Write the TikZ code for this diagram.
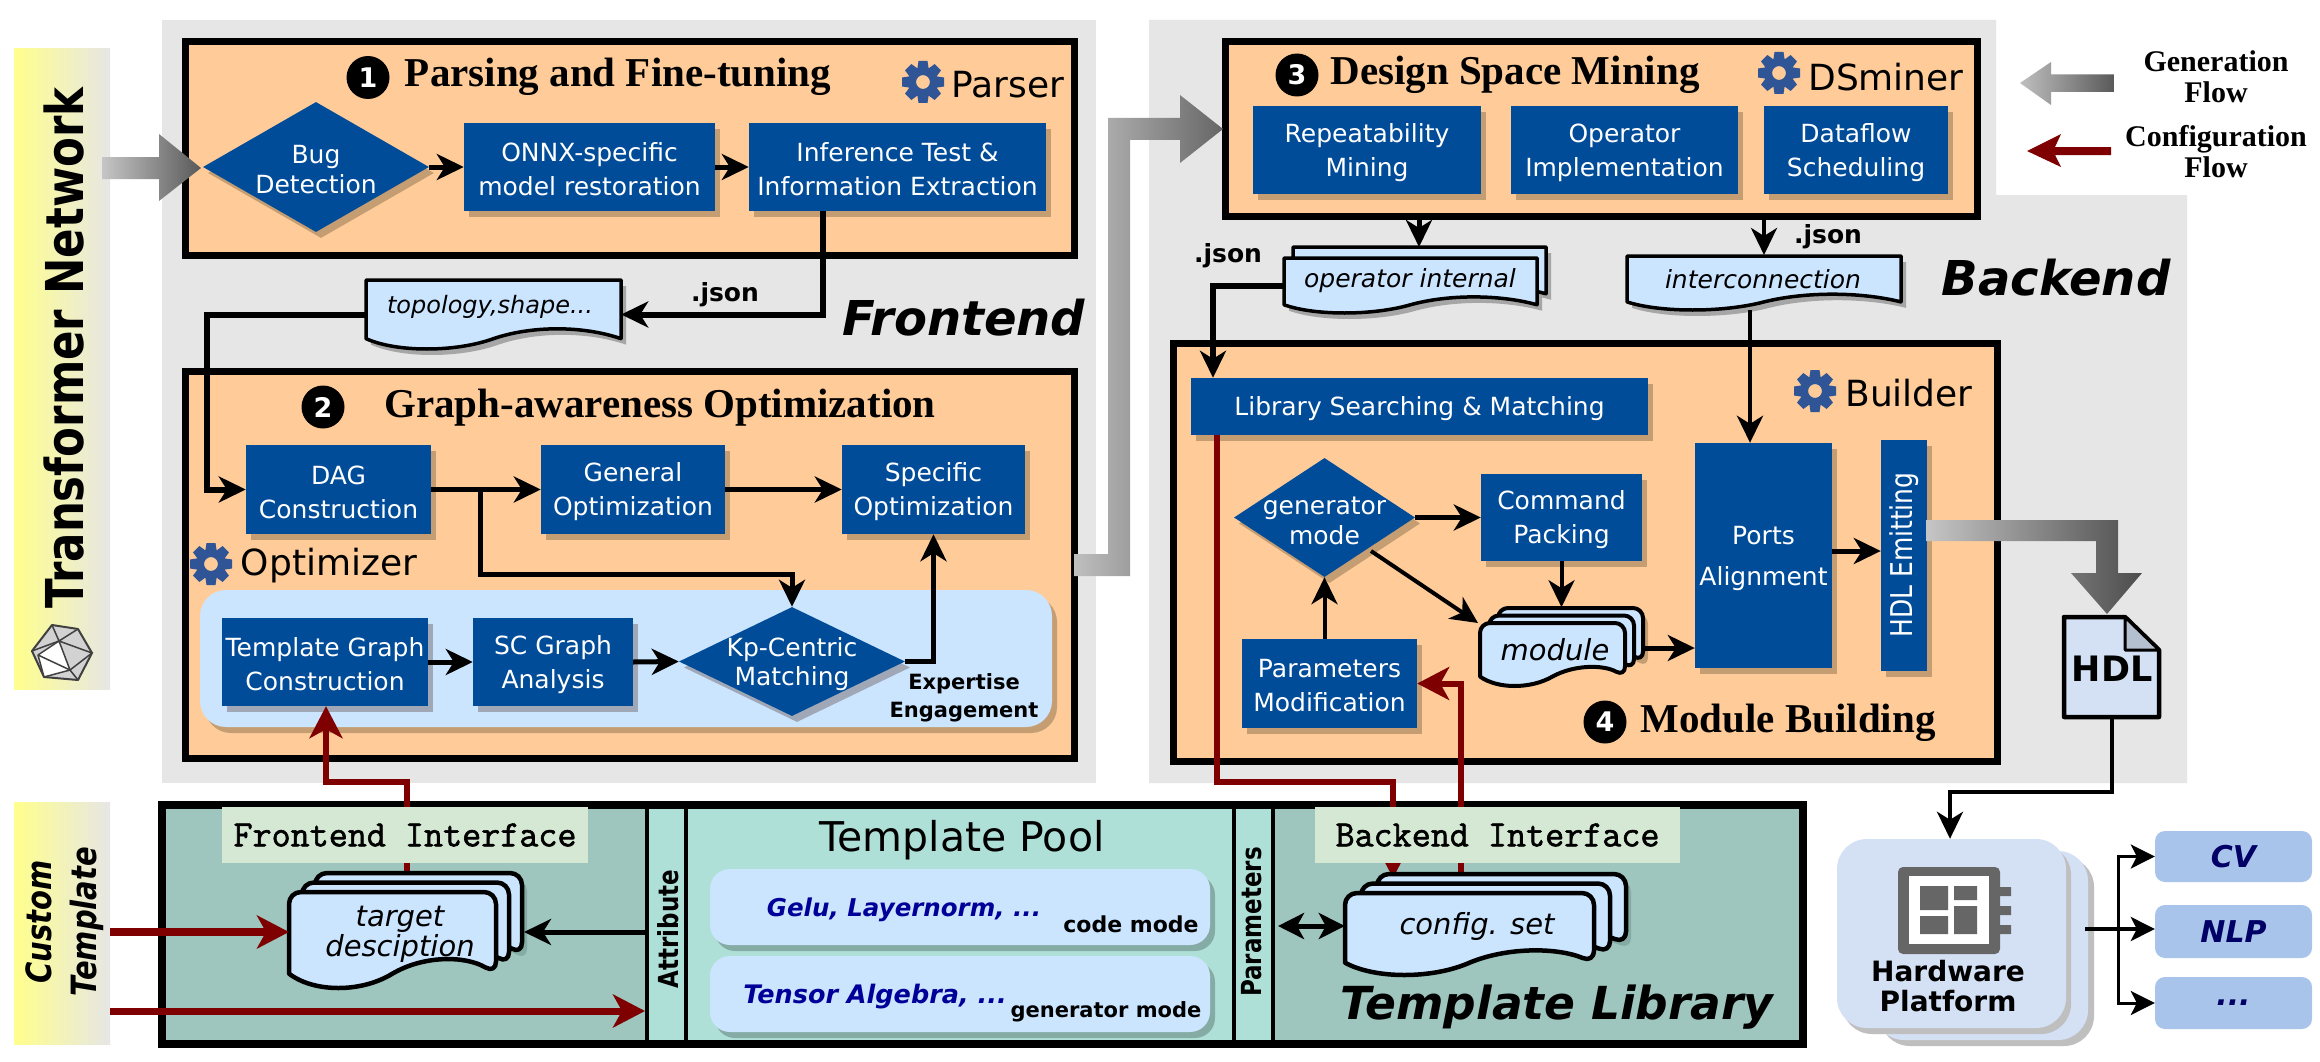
\documentclass[tikz,border=0pt]{standalone}
\usepackage{fontspec}
\setmainfont{DejaVu Sans}
\newfontfamily\tms{Liberation Serif}
\newfontfamily\monob{Latin Modern Mono}[FakeBold=1.6]
\usetikzlibrary{arrows.meta,shapes.geometric,shadows,calc}
\definecolor{bxblue}{HTML}{004C99}
\definecolor{orng}{HTML}{FFCC99}
\definecolor{bggray}{HTML}{E6E6E6}
\definecolor{docblue}{HTML}{CCE5FF}
\definecolor{teal1}{HTML}{9EC5BE}
\definecolor{pool1}{HTML}{AFE0D8}
\definecolor{iface}{HTML}{D5E8D4}
\definecolor{dred}{HTML}{7F0000}
\definecolor{hwc}{HTML}{D4E1F5}
\definecolor{outc}{HTML}{A9C4EB}
\definecolor{gearc}{HTML}{2F5597}
\definecolor{shbr}{HTML}{C49D72}
\definecolor{shbl}{HTML}{A0A8B8}
\definecolor{shte}{HTML}{85ABA5}
\definecolor{navy1}{HTML}{000099}
\definecolor{navy2}{HTML}{000066}
\newcommand\fs[2]{\fontsize{#1}{#2}\selectfont}
\tikzset{
  bluebox/.style={rectangle,fill=bxblue,text=white,inner sep=0pt,align=center,font=\fs{25}{34},
    drop shadow={shadow xshift=5pt,shadow yshift=-6pt,fill=#1,opacity=1}},
  bluebox/.default=shbr,
  bluedia/.style={diamond,fill=bxblue,text=white,inner sep=0pt,
    drop shadow={shadow xshift=5pt,shadow yshift=-6pt,fill=#1,opacity=1}},
  bluedia/.default=shbr,
  frame/.style={rectangle,draw=black,line width=7pt,fill=orng,inner sep=0pt},
  ttl/.style={font=\tms\bfseries\fs{41}{44},inner sep=0pt},
  num/.style={circle,fill=black,text=white,minimum size=43pt,inner sep=0pt,font=\bfseries\fs{27}{30}},
  toolname/.style={font=\fs{36}{38},inner sep=0pt},
  doctxt/.style={font=\itshape\fs{25}{31},align=center,inner sep=0pt},
  bolds/.style={font=\bfseries\fs{21}{26},inner sep=0pt,align=center},
  jsn/.style={font=\bfseries\fs{25}{28},inner sep=0pt},
  bigit/.style={font=\bfseries\itshape\fs{48}{52},inner sep=0pt},
  ghost/.style={rectangle,inner sep=0pt},
  poolbox/.style={rectangle,fill=docblue,rounded corners=20pt,inner sep=0pt,
    drop shadow={shadow xshift=5pt,shadow yshift=-6pt,fill=shte,opacity=1}},
  bk/.style={draw=black,line width=#1,line join=miter,-{Stealth[length=27pt,width=26pt,inset=8pt]}},
  bk/.default=5pt,
  rd/.style={draw=dred,line width=#1,-{Stealth[length=32pt,width=33pt,inset=9pt]}},
  rd/.default=6pt,
  legendtxt/.style={font=\tms\bfseries\fs{30}{31},inner sep=0pt,align=center}
}
% named rectangular node from its corners: style, name, x1,y1,x2,y2, text
\newcommand\rbox[7][]{%
  \pgfmathsetmacro\bxw{#5-#3}\pgfmathsetmacro\bxh{#6-#4}%
  \pgfmathsetmacro\bxcx{(#3+#5)/2}\pgfmathsetmacro\bxcy{(#4+#6)/2}%
  \node[#1,minimum width=\bxw pt,minimum height=\bxh pt] (#2) at (\bxcx,\bxcy) {#7};}
% blue box with its text as a centred label
\newcommand\bbox[7][shbr]{%
  \pgfmathsetmacro\bxw{#5-#3}\pgfmathsetmacro\bxh{#6-#4}%
  \pgfmathsetmacro\bxcx{(#3+#5)/2}\pgfmathsetmacro\bxcy{(#4+#6)/2}%
  \node[bluebox=#1,minimum width=\bxw pt,minimum height=\bxh pt,
    label={[text=white,align=center,font=\fs{25}{34},inner sep=0pt,yshift=-2.5pt]center:#7}] (#2) at (\bxcx,\bxcy) {};}
% diamond with centred label
\newcommand\dbox[6]{%
  \pgfmathsetmacro\bxw{#4-#2}\pgfmathsetmacro\bxh{#5-#3}%
  \pgfmathsetmacro\bxcx{(#2+#4)/2}\pgfmathsetmacro\bxcy{(#3+#5)/2}%
  \pgfmathsetmacro\bxa{\bxw/\bxh}%
  \node[bluedia,aspect=\bxa,minimum width=\bxw pt,minimum height=\bxh pt,
    label={[text=white,align=center,font=\fs{25}{30},inner sep=0pt,yshift=-3pt]center:#6}] (#1) at (\bxcx,\bxcy) {};}
% wave document outline: options, x1,y1,x2,y2, corner radius
\newcommand\docdraw[6]{%
  \pgfmathsetmacro\dw{#4-#2}\pgfmathsetmacro\dh{#5-#3}%
  \pgfmathsetmacro\yw{#3+.85*\dh}\pgfmathsetmacro\ycr{#3+.66*\dh}\pgfmathsetmacro\ytr{#3+1.05*\dh}%
  \pgfmathsetmacro\xa{#2+.85*\dw}\pgfmathsetmacro\xb{#2+.65*\dw}\pgfmathsetmacro\xc{#2+.5*\dw}%
  \pgfmathsetmacro\xd{#2+.35*\dw}\pgfmathsetmacro\xe{#2+.12*\dw}%
  \path[#1,line join=round,rounded corners=#6pt] (#2,\yw) -- (#2,#3) -- (#4,#3) -- (#4,\yw)
    [sharp corners] .. controls (\xa,\ycr) and (\xb,\ycr) .. (\xc,\yw)
    .. controls (\xd,\ytr) and (\xe,\ytr) .. (#2,\yw) -- cycle;}
% stack: name, x1,y1,x2,y2 (front), dx, dy, copies-1, radius, lw, shadow colour
\newcommand\docstack[9]{\docstackb{#1}{#2}{#3}{#4}{#5}{#6}{#7}{#8}{#9}}
\newcommand\docstackb[9]{\def\sa{#2}\def\sb{#3}\def\sc{#4}\def\sd{#5}\def\se{#6}\def\sf{#7}\def\sg{#8}\def\sh{#9}\def\sn{#1}\docstackc}
\newcommand\docstackc[2]{%
  \pgfmathsetmacro\xsh{\sa+\sg*\se+5}\pgfmathsetmacro\ysh{\sb-\sg*\sf+6}%
  \pgfmathsetmacro\xsi{\sc+\sg*\se+5}\pgfmathsetmacro\ysi{\sd-\sg*\sf+6}%
  \docdraw{fill=#2}{\xsh}{\ysh}{\xsi}{\ysi}{\sh}%
  \foreach \i in {\sg,...,0}{%
    \pgfmathsetmacro\xaa{\sa+\i*\se}\pgfmathsetmacro\yaa{\sb-\i*\sf}%
    \pgfmathsetmacro\xbb{\sc+\i*\se}\pgfmathsetmacro\ybb{\sd-\i*\sf}%
    \docdraw{fill=docblue,draw=black,line width=#1}{\xaa}{\yaa}{\xbb}{\ybb}{\sh}}%
  \pgfmathsetmacro\xbb{\sc+\sg*\se}\pgfmathsetmacro\yaa{\sb-\sg*\sf}%
  \rbox[ghost]{\sn}{\sa}{\yaa}{\xbb}{\sd}{}}
\newcommand\gearicon[2]{\begin{scope}[shift={(#1,#2)}]
  \foreach \a in {0,45,...,315}{\fill[gearc,rotate=\a] (-4.5,-21) -- (4.5,-21) -- (6,-11) -- (-6,-11) -- cycle;}
  \draw[gearc,line width=8pt] (0,0) circle[radius=11pt];
\end{scope}}
\begin{document}
\begin{tikzpicture}[x=1pt,y=-1pt]
\useasboundingbox (0,0) rectangle (2320,1062);
\fill[white] (0,0) rectangle (2320,1062);
% grey regions
\fill[bggray] (162,20) rectangle (1096,783);
\fill[bggray] (1149,20) -- (1996,20) -- (1996,195) -- (2187,195) -- (2187,783) -- (1149,783) -- cycle;
% side panels
\rbox[rectangle,left color=yellow!45!white,right color=bggray,inner sep=0pt]{tnpanel}{14}{49}{110}{689}{}
\rbox[rectangle,left color=yellow!45!white,right color=bggray,inner sep=0pt]{ctpanel}{14}{802}{110}{1044}{}
\node[rotate=90,font=\bfseries\fs{43.5}{46},inner sep=0pt] (tntext) at (64,348) {\scalebox{1}[1.2]{Transformer Network}};
\node[rotate=90,font=\bfseries\itshape\fs{29}{45},align=center,inner sep=0pt] (cttext) at (65,922) {\scalebox{1}[1.2]{Custom}\\\scalebox{1}[1.2]{Template}};
% icosahedron icon
\filldraw[fill=gray!35,draw=black!75,line width=2pt,line join=round]
  (52,625) -- (78,629) -- (92,653) -- (78,680) -- (44,677) -- (32,651) -- cycle;
\filldraw[fill=white,draw=black!75,line width=1.5pt,line join=round] (59,641) -- (70,670) -- (44,677) -- (38,655) -- cycle;
\draw[black!75,line width=1.5pt] (52,625) -- (59,641) -- (78,629) (59,641) -- (92,653) -- (70,670) -- (78,680) (32,651) -- (59,641) (38,655) -- (70,670);
% Box 1
\rbox[frame]{b1}{185}{42}{1074}{255}{}
\node[num] (n1) at (368,77.5) {1};
\node[ttl] (t1) at (618,77) {Parsing and Fine-tuning};
\gearicon{923}{82}
\node[toolname] (tool1) at (1008,85) {Parser};
\dbox{bug}{203}{102}{429}{232}{Bug\\Detection}
\bbox{onnx}{464}{123}{715}{211}{ONNX-specific\\model restoration}
\bbox{inf}{749}{123}{1046}{211}{Inference Test \&\\Information Extraction}
% Box 2
\rbox[frame]{b2}{185}{371}{1074}{758}{}
\node[num] (n2) at (323,407) {2};
\node[ttl] (t2) at (660,408) {Graph-awareness Optimization};
\bbox{dag}{246}{445}{431}{534}{DAG\\Construction}
\bbox{gen}{541}{445}{725}{534}{General\\Optimization}
\bbox{spec}{842}{445}{1025}{534}{Specific\\Optimization}
\gearicon{211}{564}
\node[toolname] (tool2) at (329,566) {Optimizer};
\rbox[rectangle,fill=docblue,rounded corners=26pt,inner sep=0pt,drop shadow={shadow xshift=5pt,shadow yshift=-6pt,fill=shbr,opacity=1}]{engage}{200}{590}{1052}{727}{}
\bbox[shbl]{tg}{222}{618}{428}{706}{Template Graph\\Construction}
\bbox[shbl]{sc}{473}{618}{633}{706}{SC Graph\\Analysis}
\node[bluedia=shbl,aspect=2.07,minimum width=226pt,minimum height=109pt,
  label={[text=white,align=center,font=\fs{25}{29},inner sep=0pt,yshift=-3pt]center:Kp-Centric\\Matching}] (kp) at (792,661.5) {};
\node[bolds,font=\bfseries\fs{21}{28}] (expert) at (964,698) {Expertise\\Engagement};
% Box 3
\rbox[frame]{ds}{1225}{42}{1977}{216}{}
\node[num] (n3) at (1297,75) {3};
\node[ttl] (t3) at (1515,75) {Design Space Mining};
\gearicon{1779}{73}
\node[toolname] (tool3) at (1886,77) {DSminer};
\bbox{rep}{1253}{106}{1481}{194}{Repeatability\\Mining}
\bbox{opi}{1511}{106}{1738}{194}{Operator\\Implementation}
\bbox{dfs}{1764}{106}{1948}{194}{Dataflow\\Scheduling}
% Box 4
\rbox[frame]{b4}{1173}{343}{1997}{761}{}
\bbox{srch}{1191}{378}{1648}{435}{Library Searching \& Matching}
\gearicon{1815}{391}
\node[toolname] (tool4) at (1909,393) {Builder};
\bbox{ports}{1695}{443}{1832}{668}{Ports\\[7pt]Alignment}
\bbox{emit}{1881}{440}{1927}{671}{}
\node[rotate=90,text=white,font=\fs{25}{28},inner sep=0pt] (emittxt) at (1904,555) {\scalebox{1}[1.2]{HDL Emitting}};
\dbox{genm}{1234}{458}{1415}{577}{generator\\mode}
\bbox{cmd}{1481}{474}{1642}{561}{Command\\Packing}
\bbox{pm}{1242}{639}{1417}{728}{Parameters\\Modification}
\node[num] (n4) at (1605,722) {4};
\node[ttl] (t4) at (1788,723) {Module Building};
% Template library
\rbox[rectangle,fill=teal1,inner sep=0pt]{lib}{162}{805}{1803}{1044}{}
\rbox[rectangle,fill=pool1,inner sep=0pt]{pool}{686}{805}{1234}{1044}{}
\rbox[rectangle,fill=pool1,draw=black,line width=4.5pt,inner sep=0pt]{attr}{647}{805}{686}{1044}{}
\rbox[rectangle,fill=pool1,draw=black,line width=4.5pt,inner sep=0pt]{parm}{1234}{805}{1273}{1044}{}
\rbox[rectangle,draw=black,line width=8pt,inner sep=0pt]{libframe}{162}{805}{1803}{1044}{}
\node[rotate=90,font=\bfseries\fs{23}{26},inner sep=0pt] (attrt) at (668,929) {\scalebox{1}[1.2]{Attribute}};
\node[rotate=90,font=\bfseries\fs{23}{26},inner sep=0pt] (parmt) at (1252,922) {\scalebox{1}[1.2]{Parameters}};
\node[font=\fs{41}{44},inner sep=0pt] (poolt) at (962,840) {Template Pool};
\rbox[poolbox]{pa}{710}{869}{1210}{945}{}
\rbox[poolbox]{pb}{710}{956}{1210}{1032}{}
\node[font=\bfseries\itshape\fs{24.5}{28},text=navy1,inner sep=0pt] (gelu) at (904,910) {Gelu, Layernorm, ...};
\node[font=\bfseries\fs{22}{24},inner sep=0pt] (codem) at (1131,924) {code mode};
\node[font=\bfseries\itshape\fs{25.5}{28},text=navy1,inner sep=0pt] (tens) at (875,997) {Tensor Algebra, ...};
\node[font=\bfseries\fs{21}{24},inner sep=0pt] (genmm) at (1106,1012) {generator mode};
% documents
\docstack{topo}{366}{280}{621}{349}{0}{0}{0}{0}{3.5pt}{gray!70}
\node[doctxt,font=\itshape\fs{24}{31}] (topot) at (490,307) {topology,shape...};
\docdraw{fill=gray!70}{1289}{264}{1542}{319}{0}
\docstack{opd}{1284}{258}{1537}{313}{9}{11}{1}{0}{3.5pt}{gray!70}
\node[doctxt] (opt) at (1410,281) {operator internal};
\docstack{icn}{1627}{256}{1901}{310}{0}{0}{0}{0}{3.5pt}{gray!70}
\node[doctxt] (icnt) at (1763,279) {interconnection};
\node[jsn] (j1) at (725,295) {.json};
\node[jsn] (j2) at (1828,237) {.json};
\node[jsn] (j3) at (1228,256) {.json};
\node[bigit] (fe) at (964,318) {Frontend};
\node[bigit] (be) at (2056,278) {Backend};
% connectors, top part
\draw[bk] (bug.east) -- (onnx.west);
\draw[bk] (onnx.east) -- (inf.west);
\coordinate (infx) at (823,211);
\draw[bk=6pt] (infx) |- (topo.east);
\coordinate (dagin) at (207,489.5);
\draw[bk=6pt] (topo.west) -| (dagin) -- (dag.west);
\draw[bk] (dag.east) -- (gen.west);
\draw[bk] (gen.east) -- (spec.west);
\coordinate (brA) at (480,489.5);
\coordinate (brB) at (480,574);
\draw[bk] (brA) -- (brB) -| (kp.north);
\draw[bk] (tg.east) -- (sc.west);
\draw[bk] (sc.east) -- (kp.west);
\draw[bk] (kp.east) -| (spec.south);
\coordinate (opin) at (1419,247);
\draw[bk] (ds.south -| opin) -- (opin);
\coordinate (icin) at (1764,255);
\draw[bk=4pt] (ds.south -| icin) -- (icin);
\coordinate (srin) at (1213,286);
\draw[bk=6pt] (opd.west |- srin) -- (srin) -- (srch.north -| srin);
\coordinate (icout) at (1750,310);
\draw[bk=4.5pt] (icout) -- (ports.north -| icout);
\draw[bk] (genm.east) -- (cmd.west |- genm.east);
\coordinate (modA) at (1371,551);
\coordinate (modB) at (1478,623);
\draw[bk=4pt] (modA) -- (modB);
\draw[bk=4pt] (cmd.south) -- ++(0,46);
\draw[bk=4pt] (genm.south |- pm.north) -- (genm.south);
\draw[bk] (ports.east |- 0,551) -- (emit.west |- 0,551);
% gradient block arrows
\shade[left color=gray!45,right color=black!65] (102,157) -- (159,157) -- (159,134) -- (201,168) -- (159,201) -- (159,179) -- (102,179) -- cycle;
\shade[left color=gray!50,right color=black!60] (1074,554) -- (1108,554) -- (1108,118) -- (1180,118) -- (1180,95) -- (1223,129) -- (1180,163) -- (1180,140) -- (1130,140) -- (1130,576) -- (1074,576) -- cycle;
\shade[left color=gray!45,right color=black!70] (1926,520) -- (2118,520) -- (2118,573) -- (2142,573) -- (2107,614) -- (2071,573) -- (2096,573) -- (2096,541) -- (1926,541) -- cycle;
% red connectors
\coordinate (fi1) at (407,876);
\coordinate (fi2) at (326,782);
\draw[rd] (fi1) |- (fi2) -- (tg.south -| fi2);
\coordinate (rb1) at (1217,782);
\coordinate (rb2) at (1393,878);
\draw[rd] (srch.south -| rb1) -- (rb1) -| (rb2);
\coordinate (rc1) at (1461,876);
\draw[rd] (rc1) |- (pm.east);
% interface boxes
\rbox[rectangle,fill=iface,inner sep=0pt,font=\monob\fs{37}{38}]{fint}{222}{807}{588}{863}{Frontend Interface}
\rbox[rectangle,fill=iface,inner sep=0pt,font=\monob\fs{37}{38}]{bint}{1315}{807}{1680}{863}{Backend Interface}
% stacks
\docstack{tgt}{289}{892}{496}{988}{13}{9.5}{2}{12}{4.5pt}{shte}
\node[doctxt,font=\itshape\fs{29}{30}] (tgtt) at (400,934) {target\\desciption};
\docstack{cfg}{1345}{893}{1594}{975}{16}{9.5}{2}{12}{4.5pt}{shte}
\node[doctxt,font=\itshape\fs{29}{30}] (cfgt) at (1477,926) {config. set};
\docstack{mod}{1480}{623}{1625}{686}{9}{7.5}{2}{10}{4pt}{shbr}
\node[doctxt,font=\itshape\fs{29}{30}] (modt) at (1555,650) {module};
\draw[bk] (mod.east |- 0,648) -- (ports.west |- 0,648);
\node[bigit,font=\bfseries\itshape\fs{45.5}{50}] (tl) at (1557,1007) {Template Library};
\coordinate (tr1) at (289,932);
\draw[rd=8pt] (ctpanel.east |- tr1) -- (tr1);
\coordinate (tr2) at (645,1011);
\draw[rd=7pt] (ctpanel.east |- tr2) -- (tr2);
\coordinate (tr3) at (524,932);
\draw[bk] (attr.west |- tr3) -- (tr3);
\coordinate (cf1) at (1278,926);
\draw[draw=black,line width=5pt,{Stealth[length=26pt,width=26pt,inset=7pt]}-{Stealth[length=26pt,width=26pt,inset=7pt]}] (cf1) -- (cfg.west |- cf1);
% legend
\shade[left color=gray!50,right color=black!65] (2020,83) -- (2051,62) -- (2051,74.5) -- (2114,74.5) -- (2114,92) -- (2051,92) -- (2051,105) -- cycle;
\node[legendtxt] (lg1) at (2216,77) {Generation\\Flow};
\fill[dred] (2027,151) -- (2061,134) -- (2055,147) -- (2111,147) -- (2111,155) -- (2055,155) -- (2061,167) -- cycle;
\node[legendtxt] (lg2) at (2216,152) {Configuration\\Flow};
% HDL document
\rbox[ghost]{hdl}{2064}{617}{2159}{717}{}
\filldraw[fill=hwc,draw=black,line width=4.5pt,line join=round] (2064,617) -- (2125,617) -- (2159,650) -- (2159,717) -- (2064,717) -- cycle;
\filldraw[fill=hwc!85!black,draw=black,line width=3pt,line join=round] (2125,617) -- (2125,650) -- (2159,650) -- cycle;
\node[font=\bfseries\fs{35}{38},inner sep=0pt] (hdlt) at (2112,669) {HDL};
% hardware platform
\fill[gray!50,rounded corners=30pt] (1880,857) rectangle (2094,1046);
\fill[hwc,rounded corners=30pt] (1874,851) rectangle (2088,1040);
\fill[gray!50,rounded corners=30pt] (1842,845) rectangle (2071,1034);
\rbox[rectangle,fill=hwc,rounded corners=30pt,inner sep=0pt]{hw}{1837}{839}{2066}{1028}{}
\fill[black!60,rounded corners=5pt] (1898,867) rectangle (2000,954);
\fill[black!60] (2000,887) rectangle (2011,896) (2000,906) rectangle (2011,915) (2000,925) rectangle (2011,934);
\fill[white] (1909,876) rectangle (1989,944);
\fill[black!60] (1920,886) rectangle (1948,910) (1954,886) rectangle (1977,900) (1954,906) rectangle (1977,934) (1920,916) rectangle (1948,934);
\node[font=\bfseries\fs{28}{30},align=center,inner sep=0pt] (hwt) at (1948,986) {Hardware\\Platform};
\coordinate (hm) at (1950,792);
\draw[bk=4pt] (hdl.south) |- (hm) -- (hw.north -| hm);
% outputs
\rbox[rectangle,fill=outc,rounded corners=10pt,inner sep=0pt,text=navy2,font=\bfseries\itshape\fs{30}{32}]{cv}{2155}{831}{2312}{882}{CV}
\rbox[rectangle,fill=outc,rounded corners=10pt,inner sep=0pt,text=navy2,font=\bfseries\itshape\fs{30}{32}]{nlp}{2155}{905}{2312}{958}{NLP}
\rbox[rectangle,fill=outc,rounded corners=10pt,inner sep=0pt,text=navy2,font=\bfseries\itshape\fs{30}{32}]{etc}{2155}{977}{2312}{1029}{...}
\coordinate (hwout) at (2085,929);
\coordinate (bus) at (2118,929);
\draw[draw=black,line width=4pt,-{Stealth[length=24pt,width=24pt,inset=6pt]}] (hwout) -- (nlp.west |- hwout);
\draw[draw=black,line width=3pt,-{Stealth[length=24pt,width=24pt,inset=6pt]}] (bus) |- (cv.west);
\draw[draw=black,line width=3pt,-{Stealth[length=24pt,width=24pt,inset=6pt]}] (bus) |- (etc.west);
\end{tikzpicture}
\end{document}
